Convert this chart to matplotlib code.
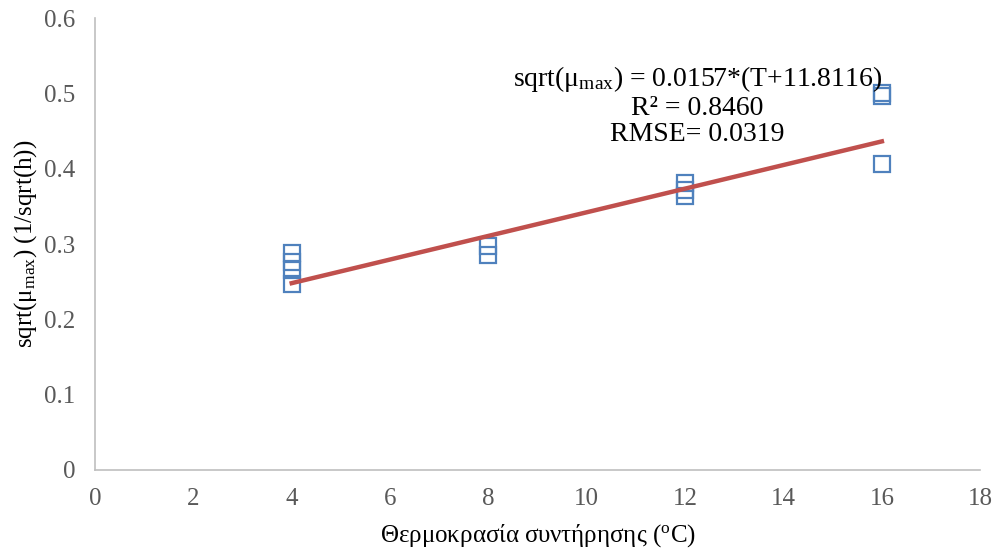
import numpy as np
import matplotlib.pyplot as plt

plt.rcParams['font.family'] = ['Liberation Serif', 'DejaVu Serif']
plt.rcParams['mathtext.fontset'] = 'custom'
plt.rcParams['mathtext.rm'] = 'Liberation Serif'
plt.rcParams['mathtext.it'] = 'Liberation Serif:italic'

# storage temperature (C) and sqrt(mu_max) replicates
temp = [4, 4, 4, 4, 8, 8, 12, 12, 12, 16, 16, 16]
sqrt_mu = [0.288, 0.276, 0.266, 0.247, 0.297, 0.286, 0.381, 0.372, 0.364, 0.501, 0.497, 0.406]

# Ratkowsky fit: sqrt(mu) = b*(T - Tmin)
b = 0.0157
t_min = -11.8116
fit_range = [4, 16]
xticks = [0, 2, 4, 6, 8, 10, 12, 14, 16, 18]
yticks = [0, 0.1, 0.2, 0.3, 0.4, 0.5, 0.6]

fig = plt.figure(figsize=(9.98, 5.52), dpi=100)
ax = fig.add_axes([0.0952, 0.1486, 0.887, 0.818])

ax.plot(temp, sqrt_mu, linestyle='none', marker='s', markersize=11,
        markerfacecolor='none', markeredgecolor='#4F81BD', markeredgewidth=1.6, zorder=2)

xf = np.array(fit_range, dtype=float)
ax.plot(xf, b * (xf - t_min), color='#C0504D', linewidth=3.2, zorder=3)

ax.set_xlim(0, 18)
ax.set_ylim(0, 0.6)
ax.set_xticks(xticks)
ax.set_yticks(yticks)
ax.set_yticklabels(['0', '0.1', '0.2', '0.3', '0.4', '0.5', '0.6'])

for s in ['top', 'right']:
    ax.spines[s].set_visible(False)
for s in ['left', 'bottom']:
    ax.spines[s].set_color('#BFBFBF')
    ax.spines[s].set_linewidth(1.2)
ax.tick_params(length=0, labelsize=18, labelcolor='#595959')
ax.tick_params(axis='x', pad=13)
ax.tick_params(axis='y', pad=14)

ax.set_xlabel('Θερμοκρασία συντήρησης ($^{\\mathrm{o}}$C)', fontsize=18, labelpad=9)
ax.set_ylabel('sqrt(μ$_{\\mathrm{max}}$) (1/sqrt(h))', fontsize=18, labelpad=4)

ax.text(12.25, 0.484,
        'sqrt(μ$_{\\mathrm{max}}$) = 0.0157*(T+11.8116)\nR² = 0.8460\nRMSE= 0.0319',
        ha='center', va='center', fontsize=20, linespacing=1.07)

fig.savefig('out.png', dpi=100)
